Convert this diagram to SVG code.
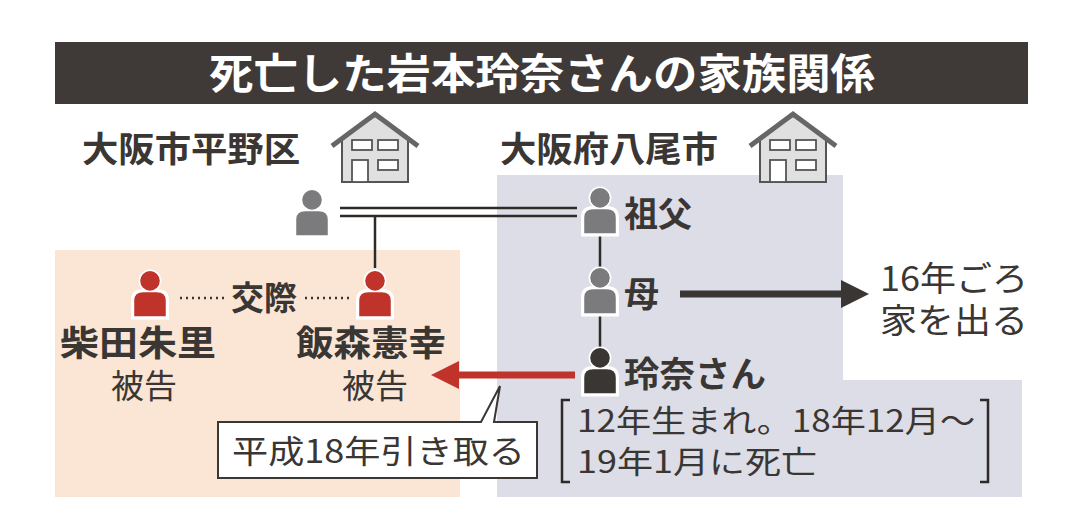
<svg xmlns="http://www.w3.org/2000/svg" width="1080" height="517" viewBox="0 0 1080 517">
<style>
text{font-family:"Noto Sans CJK JP","Noto Sans",sans-serif;fill:#3a3634}
.b{font-weight:bold}
.ln{stroke:#2e2a28;stroke-width:2.5;fill:none}
</style>
<defs>
<symbol id="p" viewBox="-20 -22 40 46" overflow="visible">
<circle cx="0" cy="-12" r="9" stroke="#fff" stroke-width="3"/>
<path d="M-16 22 V6 Q-16 -3 -6 -3 H6 Q16 -3 16 6 V22 Z" stroke="#fff" stroke-width="3"/>
<circle cx="0" cy="-12" r="9"/>
</symbol>
<symbol id="h" viewBox="0 0 90 76" overflow="visible">
<path d="M12 30 V74 H78 V30 L45 8 Z" fill="#e0e0e0" stroke="#555" stroke-width="2"/>
<path d="M2 38 L45 6 L88 38" fill="none" stroke="#666" stroke-width="5"/>
<rect x="22" y="32" width="20" height="10" fill="#fff" stroke="#555" stroke-width="1.8"/>
<rect x="48" y="32" width="20" height="10" fill="#fff" stroke="#555" stroke-width="1.8"/>
<rect x="22" y="52" width="16" height="22" fill="#fff" stroke="#555" stroke-width="1.8"/>
<rect x="48" y="52" width="20" height="10" fill="#fff" stroke="#555" stroke-width="1.8"/>
</symbol>
<marker id="ag" viewBox="0 0 10 10" refX="5" refY="5" markerWidth="4" markerHeight="4" orient="auto"><path d="M0 0L10 5L0 10Z" fill="#3a3634"/></marker>
<marker id="ar" viewBox="0 0 10 10" refX="5" refY="5" markerWidth="4" markerHeight="4" orient="auto"><path d="M0 0L10 5L0 10Z" fill="#c0332b"/></marker>
</defs>
<rect width="1080" height="517" fill="#fff"/>
<g id="regions">
<rect x="55" y="250" width="405" height="247" fill="#fbe6d6"/>
<path d="M497 175 H843 V380 H1022 V497 H497 Z" fill="#dcdde6"/>
</g>
<g id="title">
<rect x="55" y="42" width="973" height="62" fill="#3f3a38"/>
<text x="209" y="89" font-size="42" class="b" style="fill:#fff" textLength="666" lengthAdjust="spacingAndGlyphs">死亡した岩本玲奈さんの家族関係</text>
</g>
<g id="place-hirano"><text x="82" y="162" font-size="35" class="b" textLength="218" lengthAdjust="spacingAndGlyphs">大阪市平野区</text><use href="#h" x="330" y="108" width="90" height="76"/></g>
<g id="place-yao"><text x="500" y="162" font-size="35" class="b" textLength="218" lengthAdjust="spacingAndGlyphs">大阪府八尾市</text><use href="#h" x="748" y="108" width="90" height="76"/></g>
<g id="connectors">
<line x1="340" y1="208" x2="577" y2="208" class="ln"/>
<line x1="340" y1="216" x2="577" y2="216" class="ln"/>
<line x1="375" y1="216" x2="375" y2="268" class="ln"/>
<line x1="600" y1="234" x2="600" y2="272" class="ln"/>
<line x1="600" y1="315" x2="600" y2="352" class="ln"/>
<line x1="180" y1="298" x2="225" y2="298" stroke="#3a3634" stroke-width="2.5" stroke-dasharray="2 4"/>
<line x1="305" y1="298" x2="352" y2="298" stroke="#3a3634" stroke-width="2.5" stroke-dasharray="2 4"/>
<line x1="680" y1="294" x2="855" y2="294" stroke="#3a3634" stroke-width="7" marker-end="url(#ag)"/>
<line x1="575" y1="375" x2="445" y2="375" stroke="#c0332b" stroke-width="7" marker-end="url(#ar)"/>
</g>
<g id="n-left-gf"><use href="#p" x="290" y="189" width="44" height="50" fill="#7b7b7d"/></g>
<g id="n-sofu"><use href="#p" x="578" y="187" width="44" height="50" fill="#7b7b7d"/><text x="624" y="227" font-size="35" class="b" textLength="68" lengthAdjust="spacingAndGlyphs">祖父</text></g>
<g id="n-haha"><use href="#p" x="578" y="267" width="44" height="50" fill="#7b7b7d"/><text x="624" y="307" font-size="35" class="b">母</text></g>
<g id="n-rena"><use href="#p" x="578" y="347" width="44" height="50" fill="#3a3634"/><text x="624" y="387" font-size="35" class="b" textLength="142" lengthAdjust="spacingAndGlyphs">玲奈さん</text></g>
<g id="n-shibata"><use href="#p" x="128" y="270" width="44" height="50" fill="#c0332b"/><text x="60" y="356" font-size="35" class="b" textLength="156" lengthAdjust="spacingAndGlyphs">柴田朱里</text><text x="144" y="398" font-size="33" text-anchor="middle">被告</text></g>
<g id="n-iimori"><use href="#p" x="353" y="270" width="44" height="50" fill="#c0332b"/><text x="296" y="356" font-size="35" class="b" textLength="150" lengthAdjust="spacingAndGlyphs">飯森憲幸</text><text x="375" y="398" font-size="33" text-anchor="middle">被告</text></g>
<text x="264" y="310" font-size="33" text-anchor="middle" class="b">交際</text>
<g id="n-leave"><text x="880" y="291" font-size="34" textLength="148" lengthAdjust="spacingAndGlyphs">16年ごろ</text><text x="880" y="333" font-size="34" textLength="148" lengthAdjust="spacingAndGlyphs">家を出る</text></g>
<g id="n-callout">
<path d="M218 422 H481 L500 386 L494 422 H537 V478 H218 Z" fill="#fff" stroke="#3a3634" stroke-width="2"/>
<text x="232" y="463" font-size="32" textLength="293" lengthAdjust="spacingAndGlyphs">平成18年引き取る</text>
</g>
<g id="n-note">
<path d="M570 400 H562 V482 H570" class="ln" stroke-width="2"/>
<path d="M980 400 H988 V482 H980" class="ln" stroke-width="2"/>
<text x="577" y="432" font-size="31" textLength="398" lengthAdjust="spacingAndGlyphs">12年生まれ。18年12月～</text>
<text x="577" y="473" font-size="31" textLength="240" lengthAdjust="spacingAndGlyphs">19年1月に死亡</text>
</g>
</svg>
